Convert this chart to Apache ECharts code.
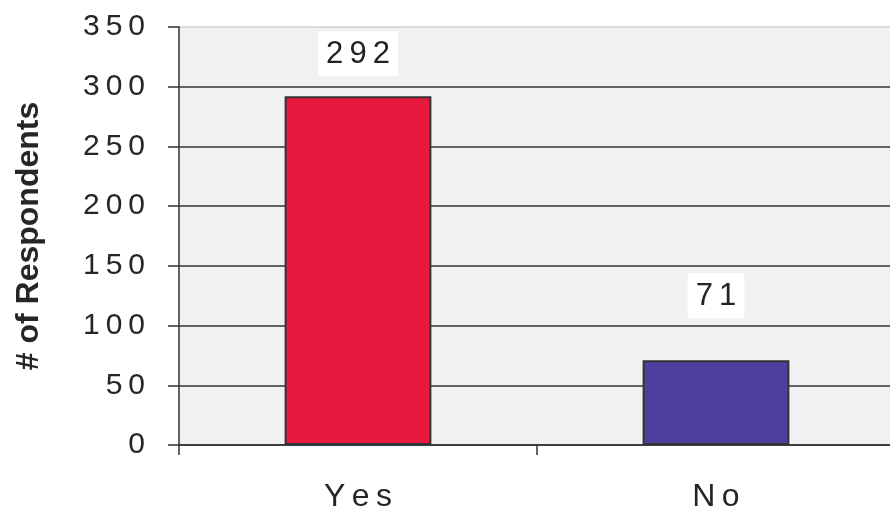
<!DOCTYPE html>
<html>
<head>
<meta charset="utf-8">
<script src="https://cdn.jsdelivr.net/npm/echarts@6/dist/echarts.min.js"></script>
<style>html,body{margin:0;padding:0;background:#fff}#c{width:890px;height:512px}</style>
</head>
<body>
<div id="c"></div>
<script>
var categories = ['Yes', 'No'];
var values = [292, 71];
var barColors = ['#e8193f', '#4d3f9e'];
var labelDistances = [20, 42];
var yTicks = [0, 50, 100, 150, 200, 250, 300, 350];

function spaced(s, sep) { return String(s).split('').join(sep); }

var chart = echarts.init(document.getElementById('c'), null, {renderer: 'canvas'});
chart.setOption({
  animation: false,
  backgroundColor: '#ffffff',
  grid: {left: 179, right: -5, top: 27, bottom: 67, show: true, backgroundColor: '#f1f1f1', borderWidth: 0, outerBoundsMode: 'none', containLabel: false},
  xAxis: {
    type: 'category',
    data: categories,
    axisLine: {lineStyle: {color: '#333', width: 1.5}},
    axisTick: {show: true, length: 10, lineStyle: {color: '#333', width: 1.5}},
    axisLabel: {
      margin: 36,
      fontSize: 32,
      fontFamily: 'Liberation Sans, Arial, sans-serif',
      color: '#262626',
      formatter: function (v) { return spaced(v, '\u2009'); }
    }
  },
  yAxis: {
    type: 'value',
    min: 0,
    max: 350,
    interval: 50,
    name: '# of Respondents',
    nameLocation: 'middle',
    nameGap: 134,
    nameTextStyle: {fontSize: 32, fontWeight: 'bold', fontFamily: 'Liberation Sans, Arial, sans-serif', color: '#262626'},
    axisLine: {show: true, lineStyle: {color: '#333', width: 1.5}},
    axisTick: {show: true, length: 11, lineStyle: {color: '#333', width: 1.5}},
    axisLabel: {
      margin: 34,
      fontSize: 30,
      fontFamily: 'Liberation Sans, Arial, sans-serif',
      color: '#262626',
      formatter: function (v) { return spaced(v, '\u2009'); }
    },
    splitLine: {show: true, lineStyle: {color: ['#333', '#333', '#333', '#333', '#333', '#333', '#333', '#d0d0d0'], width: 1.5}}
  },
  series: [{
    type: 'bar',
    barWidth: '41%',
    data: values.map(function (v, i) {
      return {
        value: v,
        itemStyle: {color: barColors[i]},
        label: {distance: labelDistances[i]}
      };
    }),
    itemStyle: {borderColor: '#333', borderWidth: 2},
    label: {
      show: true,
      position: 'top',
      fontSize: 31,
      fontFamily: 'Liberation Sans, Arial, sans-serif',
      color: '#222',
      backgroundColor: '#ffffff',
      padding: [8, 8, 6, 8],
      formatter: function (p) { return spaced(p.value, '\u2009'); }
    }
  }]
});
</script>
</body>
</html>
